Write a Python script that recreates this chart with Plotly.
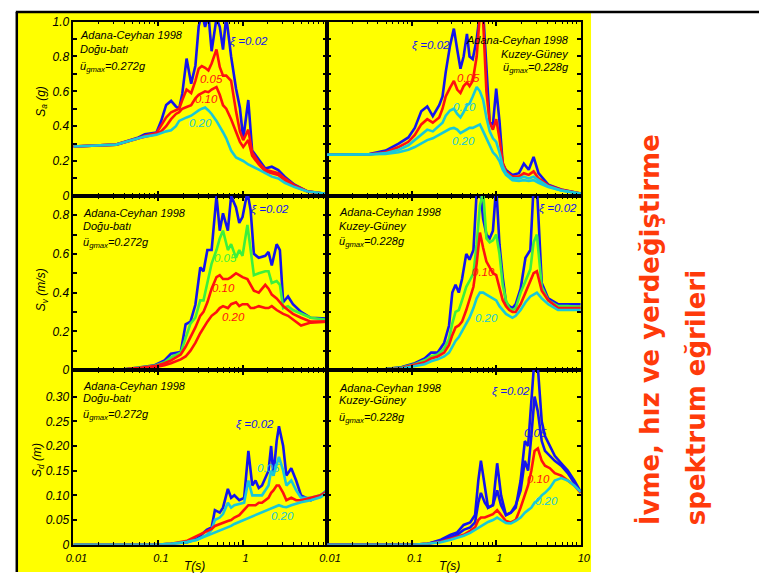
import plotly.graph_objects as go

W, H = 769, 579

# ---------------- data ----------------
# Top-left: Sa, Dogu-bati
TL_T = [0.01, 0.032, 0.059, 0.07, 0.096, 0.109, 0.125, 0.143, 0.163, 0.178, 0.194, 0.218, 0.247,
        0.277, 0.303, 0.33, 0.361, 0.395, 0.431, 0.492, 0.538, 0.588, 0.642, 0.733, 0.838, 0.932,
        1.02, 1.17, 1.30, 1.56, 1.86, 2.22, 2.65, 3.16, 4.12, 5.88, 10]
TL_SA_002 = [0.283, 0.294, 0.335, 0.354, 0.363, 0.429, 0.522, 0.545, 0.513, 0.50, 0.588, 0.788, 0.644,
             0.747, 0.972, 1.05, 0.97, 1.04, 0.83, 1.02, 0.97, 0.84, 1.03, 0.80, 0.616, 0.504,
             0.326, 0.55, 0.26, 0.204, 0.157, 0.167, 0.148, 0.11, 0.064, 0.026, 0.01]
TL_SA_005 = [0.283, 0.294, 0.33, 0.345, 0.36, 0.405, 0.45, 0.48, 0.49, 0.50, 0.55, 0.61, 0.59,
             0.66, 0.73, 0.745, 0.735, 0.72, 0.76, 0.84, 0.74, 0.69, 0.69, 0.66, 0.485, 0.37,
             0.32, 0.38, 0.25, 0.19, 0.15, 0.14, 0.13, 0.10, 0.06, 0.025, 0.01]
TL_SA_010 = [0.283, 0.294, 0.33, 0.34, 0.355, 0.37, 0.40, 0.44, 0.47, 0.48, 0.50, 0.51, 0.52,
             0.56, 0.58, 0.59, 0.60, 0.595, 0.61, 0.625, 0.58, 0.52, 0.50, 0.44, 0.37, 0.31,
             0.28, 0.32, 0.23, 0.18, 0.14, 0.13, 0.12, 0.09, 0.055, 0.025, 0.01]
TL_SA_020 = [0.283, 0.294, 0.33, 0.34, 0.35, 0.36, 0.37, 0.376, 0.40, 0.43, 0.44, 0.45, 0.46,
             0.48, 0.49, 0.50, 0.507, 0.49, 0.47, 0.43, 0.40, 0.365, 0.33, 0.26, 0.22, 0.21,
             0.20, 0.18, 0.17, 0.15, 0.13, 0.11, 0.10, 0.075, 0.05, 0.025, 0.012]

# Top-right: Sa, Kuzey-Guney
TR_T = [0.01, 0.0316, 0.0492, 0.0702, 0.0915, 0.109, 0.130, 0.153, 0.178, 0.212, 0.232, 0.253,
        0.284, 0.316, 0.346, 0.378, 0.412, 0.451, 0.484, 0.528, 0.588, 0.642, 0.702, 0.766,
        0.838, 0.915, 1.0, 1.093, 1.194, 1.305, 1.557, 1.858, 2.123, 2.424, 2.769, 3.162,
        4.125, 5.878, 10]
TR_SA_002 = [0.236, 0.24, 0.26, 0.30, 0.335, 0.39, 0.485, 0.513, 0.457, 0.52, 0.57, 0.71, 0.86,
             0.96, 0.84, 0.73, 0.80, 0.93, 0.80, 0.785, 0.90, 1.05, 1.05, 0.71, 0.42, 0.41,
             0.616, 0.43, 0.185, 0.148, 0.12, 0.13, 0.185, 0.15, 0.223, 0.13, 0.064, 0.036, 0.013]
TR_SA_005 = [0.236, 0.238, 0.25, 0.28, 0.31, 0.35, 0.41, 0.44, 0.42, 0.45, 0.50, 0.57, 0.62,
             0.66, 0.61, 0.59, 0.63, 0.65, 0.63, 0.66, 0.80, 1.05, 1.0, 0.60, 0.42, 0.38,
             0.44, 0.33, 0.19, 0.14, 0.11, 0.11, 0.13, 0.12, 0.14, 0.10, 0.06, 0.035, 0.013]
TR_SA_010 = [0.236, 0.237, 0.245, 0.265, 0.29, 0.32, 0.35, 0.38, 0.37, 0.40, 0.42, 0.46, 0.49,
             0.50, 0.47, 0.45, 0.48, 0.52, 0.53, 0.57, 0.625, 0.60, 0.55, 0.45, 0.37, 0.33,
             0.31, 0.25, 0.17, 0.13, 0.10, 0.10, 0.11, 0.10, 0.11, 0.09, 0.055, 0.03, 0.012]
TR_SA_020 = [0.236, 0.236, 0.24, 0.25, 0.265, 0.28, 0.30, 0.32, 0.33, 0.35, 0.36, 0.37, 0.385,
             0.39, 0.38, 0.36, 0.37, 0.385, 0.39, 0.39, 0.40, 0.41, 0.37, 0.33, 0.29, 0.25,
             0.23, 0.20, 0.15, 0.12, 0.09, 0.085, 0.09, 0.085, 0.09, 0.075, 0.05, 0.03, 0.012]

# Middle-left: Sv, Dogu-bati
ML_T = [0.01, 0.0377, 0.0588, 0.0915, 0.1194, 0.1425, 0.1858, 0.2123, 0.2424, 0.2769, 0.3162,
        0.3455, 0.3842, 0.4311, 0.4924, 0.538, 0.5877, 0.6713, 0.7333, 0.8377, 0.915, 1.0,
        1.142, 1.248, 1.363, 1.557, 1.858, 2.031, 2.219, 2.534, 2.769, 3.026, 3.455, 3.948,
        4.924, 6.424, 10]
ML_SV_002 = [0, 0.002, 0.013, 0.025, 0.05, 0.084, 0.093, 0.236, 0.25, 0.337, 0.53, 0.51, 0.62,
             0.62, 0.90, 0.72, 0.81, 0.72, 0.90, 0.84, 0.76, 0.79, 0.92, 0.825, 0.60, 0.58,
             0.59, 0.61, 0.54, 0.65, 0.62, 0.35, 0.38, 0.34, 0.30, 0.27, 0.266]
ML_SV_005 = [0, 0.002, 0.012, 0.022, 0.04, 0.065, 0.09, 0.17, 0.24, 0.27, 0.36, 0.36, 0.45,
             0.55, 0.62, 0.68, 0.72, 0.62, 0.65, 0.58, 0.62, 0.59, 0.75, 0.62, 0.49, 0.50,
             0.51, 0.51, 0.45, 0.46, 0.44, 0.32, 0.33, 0.31, 0.29, 0.27, 0.26]
ML_SV_010 = [0, 0.002, 0.01, 0.02, 0.035, 0.05, 0.08, 0.12, 0.17, 0.22, 0.28, 0.30, 0.35,
             0.42, 0.48, 0.49, 0.47, 0.47, 0.48, 0.50, 0.49, 0.48, 0.47, 0.44, 0.41, 0.40,
             0.44, 0.42, 0.39, 0.37, 0.35, 0.33, 0.31, 0.29, 0.27, 0.25, 0.25]
ML_SV_020 = [0, 0.002, 0.008, 0.015, 0.025, 0.035, 0.055, 0.07, 0.10, 0.14, 0.19, 0.22, 0.25,
             0.28, 0.30, 0.32, 0.33, 0.32, 0.34, 0.35, 0.33, 0.34, 0.34, 0.32, 0.32, 0.33,
             0.32, 0.32, 0.33, 0.31, 0.30, 0.29, 0.28, 0.26, 0.23, 0.245, 0.25]

# Middle-right: Sv, Kuzey-Guney
MR_T = [0.01, 0.0316, 0.0492, 0.0767, 0.1093, 0.1425, 0.1701, 0.2031, 0.2424, 0.2769, 0.3026,
        0.3305, 0.3612, 0.3946, 0.4427, 0.4837, 0.538, 0.5877, 0.6421, 0.7015, 0.7664, 0.8377,
        0.915, 1.0, 1.093, 1.194, 1.305, 1.425, 1.557, 1.701, 1.944, 2.219, 2.534, 2.769,
        3.026, 3.455, 4.125, 5.382, 7.017, 10]
MR_SV_002 = [0, 0.001, 0.005, 0.015, 0.035, 0.06, 0.09, 0.09, 0.14, 0.23, 0.40, 0.44, 0.40,
             0.47, 0.60, 0.57, 0.62, 0.92, 0.95, 0.78, 0.70, 0.68, 0.72, 0.95, 0.65, 0.48,
             0.35, 0.33, 0.32, 0.34, 0.42, 0.58, 0.62, 0.95, 0.95, 0.45, 0.37, 0.34, 0.34, 0.34]
MR_SV_005 = [0, 0.001, 0.005, 0.013, 0.03, 0.05, 0.07, 0.08, 0.11, 0.16, 0.24, 0.30, 0.31,
             0.36, 0.43, 0.46, 0.50, 0.65, 0.85, 0.92, 0.68, 0.66, 0.67, 0.70, 0.60, 0.44,
             0.36, 0.32, 0.31, 0.32, 0.40, 0.46, 0.52, 0.66, 0.70, 0.43, 0.36, 0.33, 0.33, 0.325]
MR_SV_010 = [0, 0.001, 0.004, 0.01, 0.025, 0.04, 0.06, 0.07, 0.09, 0.13, 0.18, 0.22, 0.23,
             0.25, 0.31, 0.36, 0.43, 0.55, 0.71, 0.63, 0.56, 0.53, 0.50, 0.49, 0.42, 0.36,
             0.33, 0.31, 0.30, 0.30, 0.34, 0.40, 0.46, 0.50, 0.51, 0.41, 0.36, 0.32, 0.32, 0.32]
MR_SV_020 = [0, 0.001, 0.003, 0.008, 0.02, 0.03, 0.045, 0.055, 0.07, 0.09, 0.12, 0.15, 0.17,
             0.20, 0.24, 0.27, 0.32, 0.37, 0.40, 0.40, 0.39, 0.38, 0.37, 0.36, 0.33, 0.31,
             0.29, 0.28, 0.27, 0.28, 0.31, 0.35, 0.38, 0.39, 0.40, 0.37, 0.34, 0.31, 0.31, 0.31]

# Bottom-left: Sd, Dogu-bati
BL_T = [0.01, 0.0915, 0.1425, 0.2219, 0.2894, 0.3775, 0.4311, 0.4711, 0.538, 0.5877, 0.6713,
        0.7333, 0.8013, 0.915, 1.045, 1.173, 1.304, 1.425, 1.557, 1.701, 2.031, 2.181, 2.32,
        2.534, 2.697, 3.026, 3.305, 3.775, 4.311, 4.924, 6.424, 8.377, 10]
BL_SD_002 = [0, 0, 0.002, 0.005, 0.012, 0.03, 0.035, 0.07, 0.065, 0.075, 0.113, 0.095, 0.10,
             0.09, 0.095, 0.19, 0.12, 0.13, 0.115, 0.12, 0.15, 0.20, 0.14, 0.21, 0.24, 0.20,
             0.14, 0.155, 0.13, 0.10, 0.09, 0.10, 0.11]
BL_SD_005 = [0, 0, 0.002, 0.005, 0.01, 0.02, 0.03, 0.05, 0.055, 0.062, 0.085, 0.075, 0.08,
             0.082, 0.085, 0.13, 0.10, 0.10, 0.10, 0.10, 0.12, 0.15, 0.14, 0.16, 0.178, 0.15,
             0.12, 0.13, 0.11, 0.095, 0.095, 0.10, 0.11]
BL_SD_010 = [0, 0, 0.002, 0.008, 0.018, 0.028, 0.032, 0.038, 0.042, 0.045, 0.048, 0.05, 0.055,
             0.06, 0.07, 0.08, 0.08, 0.08, 0.085, 0.085, 0.095, 0.105, 0.11, 0.12, 0.12, 0.105,
             0.09, 0.095, 0.09, 0.09, 0.095, 0.10, 0.108]
BL_SD_020 = [0, 0, 0.002, 0.006, 0.01, 0.018, 0.021, 0.024, 0.028, 0.031, 0.035, 0.038, 0.042,
             0.046, 0.05, 0.055, 0.058, 0.06, 0.063, 0.066, 0.07, 0.073, 0.075, 0.078, 0.08,
             0.077, 0.076, 0.08, 0.083, 0.086, 0.09, 0.096, 0.105]

# Bottom-right: Sd, Kuzey-Guney
BR_T = [0.01, 0.1, 0.1557, 0.2219, 0.2894, 0.3455, 0.4124, 0.4924, 0.5623, 0.6142, 0.6595,
        0.7333, 0.8013, 0.915, 1.027, 1.142, 1.304, 1.49, 1.701, 1.944, 2.181, 2.382, 2.603,
        2.843, 3.107, 3.455, 3.775, 4.311, 4.924, 5.878, 7.017, 8.377, 10]
BR_SD_002 = [0, 0, 0.002, 0.01, 0.02, 0.025, 0.04, 0.045, 0.06, 0.13, 0.17, 0.12, 0.075, 0.08,
             0.165, 0.10, 0.06, 0.065, 0.075, 0.13, 0.21, 0.20, 0.30, 0.38, 0.36, 0.25, 0.22,
             0.20, 0.18, 0.165, 0.15, 0.13, 0.107]
BR_SD_005 = [0, 0, 0.002, 0.008, 0.015, 0.02, 0.03, 0.035, 0.045, 0.085, 0.105, 0.085, 0.075,
             0.08, 0.11, 0.08, 0.06, 0.065, 0.08, 0.11, 0.17, 0.15, 0.22, 0.30, 0.27, 0.21,
             0.19, 0.18, 0.17, 0.16, 0.145, 0.125, 0.105]
BR_SD_010 = [0, 0, 0.002, 0.006, 0.012, 0.016, 0.02, 0.028, 0.035, 0.05, 0.055, 0.055, 0.058,
             0.062, 0.07, 0.06, 0.048, 0.045, 0.05, 0.075, 0.10, 0.12, 0.15, 0.19, 0.195, 0.17,
             0.16, 0.155, 0.145, 0.14, 0.13, 0.12, 0.105]
BR_SD_020 = [0, 0, 0.002, 0.005, 0.01, 0.014, 0.018, 0.024, 0.03, 0.034, 0.038, 0.042, 0.046,
             0.05, 0.055, 0.05, 0.044, 0.043, 0.048, 0.055, 0.065, 0.07, 0.075, 0.085, 0.09,
             0.10, 0.105, 0.115, 0.13, 0.135, 0.13, 0.12, 0.107]

# tick labels
X_MAJOR = [0.01, 0.1, 1, 10]
X_TEXT_LEFT = ["0.01", "0.1", "1", ""]
X_TEXT_RIGHT = ["0.01", "0.1", "1", "10"]
X_MINOR = [m * d for d in (0.01, 0.1, 1) for m in range(2, 10)]
SA_TICKS = [0, 0.2, 0.4, 0.6, 0.8, 1.0]
SA_TEXT = ["0", "0.2", "0.4", "0.6", "0.8", "1.0"]
SV_TICKS = [0, 0.2, 0.4, 0.6, 0.8]
SV_TEXT = ["0", "0.2", "0.4", "0.6", "0.8"]
SD_TICKS = [0, 0.05, 0.10, 0.15, 0.20, 0.25, 0.30]
SD_TEXT = ["0", "0.05", "0.10", "0.15", "0.20", "0.25", "0.30"]
Y_MINOR_01 = [0.1, 0.3, 0.5, 0.7, 0.9]

# ---------------- styles ----------------
BLUE = "#1414EE"
RED = "#FF1010"
CYAN = "#18C8D8"
GREEN = "#3CF03C"
YELLOW = "#FFFF00"
ORANGE = "#FF3A0A"
FONT = "Liberation Sans, Arial, sans-serif"


def xp(x):
    return x / W


def yp(y):
    return 1 - y / H


fig = go.Figure()

panels = [
    (1, TL_T, [(TL_SA_002, BLUE), (TL_SA_005, RED), (TL_SA_010, RED), (TL_SA_020, CYAN)]),
    (2, TR_T, [(TR_SA_002, BLUE), (TR_SA_005, RED), (TR_SA_010, CYAN), (TR_SA_020, CYAN)]),
    (3, ML_T, [(ML_SV_002, BLUE), (ML_SV_005, GREEN), (ML_SV_010, RED), (ML_SV_020, RED)]),
    (4, MR_T, [(MR_SV_002, BLUE), (MR_SV_005, GREEN), (MR_SV_010, RED), (MR_SV_020, CYAN)]),
    (5, BL_T, [(BL_SD_002, BLUE), (BL_SD_005, CYAN), (BL_SD_010, RED), (BL_SD_020, CYAN)]),
    (6, BR_T, [(BR_SD_002, BLUE), (BR_SD_005, BLUE), (BR_SD_010, RED), (BR_SD_020, CYAN)]),
]
for ax, T, series in panels:
    sfx = "" if ax == 1 else str(ax)
    for vals, col in series:
        fig.add_trace(go.Scatter(x=T, y=vals, mode="lines",
                                 line=dict(color=col, width=2.6),
                                 xaxis="x" + sfx, yaxis="y" + sfx,
                                 showlegend=False, hoverinfo="skip"))

XCOL = [(67, 326.7), (326.7, 586.5)]
YROW = [(15, 193.5), (193.5, 372), (372, 551)]
YRANGES = [[0, 1.0], [0, 0.9], [0, 0.354]]
YTV = [(SA_TICKS, SA_TEXT, Y_MINOR_01), (SV_TICKS, SV_TEXT, Y_MINOR_01), (SD_TICKS, SD_TEXT, [])]

tickfont = dict(family=FONT, size=12, color="black", style="italic")
layout_axes = {}
for ax in range(1, 7):
    r = (ax - 1) // 2
    c = (ax - 1) % 2
    sfx = "" if ax == 1 else str(ax)
    x0, x1 = XCOL[c]
    y0, y1 = YROW[r]
    tv, tt, ymin = YTV[r]
    layout_axes["xaxis" + sfx] = dict(
        type="log", range=[-2, 1], domain=[xp(x0), xp(x1)], anchor="y" + sfx,
        showline=True, linecolor="black", linewidth=1.7, mirror="ticks",
        ticks="inside", ticklen=5, tickwidth=1.5, tickcolor="black",
        tickmode="array", tickvals=X_MAJOR,
        ticktext=(X_TEXT_LEFT if c == 0 else X_TEXT_RIGHT),
        showticklabels=(r == 2), tickfont=dict(tickfont, size=11),
        ticklabelshift=3, ticklabelstandoff=2,
        minor=dict(tickmode="array", tickvals=X_MINOR, ticks="inside", ticklen=3,
                   tickwidth=1.2, tickcolor="black", showgrid=False),
        showgrid=False, zeroline=False, fixedrange=True,
    )
    layout_axes["yaxis" + sfx] = dict(
        range=YRANGES[r], domain=[yp(y1), yp(y0)], anchor="x" + sfx,
        showline=True, linecolor="black", linewidth=1.7, mirror="ticks",
        ticks="inside", ticklen=4, tickwidth=1.5, tickcolor="black",
        tickmode="array", tickvals=tv, ticktext=tt,
        showticklabels=(c == 0), tickfont=tickfont,
        minor=dict(tickmode="array", tickvals=ymin, ticks="inside", ticklen=4,
                   tickwidth=1.5, tickcolor="black", showgrid=False),
        showgrid=False, zeroline=False, fixedrange=True,
    )

ann = []


def text(x, y, s, color="black", size=11, xanchor="left", italic=True, angle=0, family=FONT,
         weight="normal"):
    ann.append(dict(x=xp(x), y=yp(y), xref="paper", yref="paper", text=s, showarrow=False,
                    xanchor=xanchor, yanchor="middle", textangle=angle,
                    font=dict(family=family, size=size, color=color,
                              style=("italic" if italic else "normal"), weight=weight)))


# panel info blocks
for (x, ys, name, pga, anchor) in [
    (72, (29, 43, 61), "Doğu-batı", "0.272g", "left"),
    (577, (34, 48, 63), "Kuzey-Güney", "0.228g", "right"),
    (75, (211, 224, 242), "Doğu-batı", "0.272g", "left"),
    (337, (210, 224, 241), "Kuzey-Güney", "0.228g", "left"),
    (75, (388, 401, 418), "Doğu-batı", "0.272g", "left"),
    (337, (390, 403, 421), "Kuzey-Güney", "0.228g", "left"),
]:
    text(x, ys[0], "Adana-Ceyhan 1998", xanchor=anchor)
    text(x, ys[1], name, xanchor=anchor)
    text(x, ys[2], "ü<sub>gmax</sub>=" + pga, xanchor=anchor)

# damping labels
LBL = 11.5
for (x, y, s, col) in [
    (247, 35, "ξ =0.02", BLUE), (208, 74, "0.05", RED), (203, 94, "0.10", RED), (197, 119, "0.20", CYAN),
    (433, 39, "ξ =0.02", BLUE), (472, 73, "0.05", RED), (467, 102, "0.10", CYAN), (466, 137, "0.20", CYAN),
    (268, 208, "ξ =0.02", BLUE), (223, 257, "0.05", GREEN), (221, 288, "0.10", RED), (231, 318, "0.20", RED),
    (563, 206, "ξ =0.02", BLUE), (487, 272, "0.10", RED), (490, 319, "0.20", CYAN),
    (253, 428, "ξ =0.02", BLUE), (267, 472, "0.05", CYAN), (281, 522, "0.20", CYAN),
    (515, 394, "ξ =0.02", BLUE), (540, 437, "0.05", BLUE), (543, 484, "0.10", RED), (551, 506, "0.20", CYAN),
]:
    text(x, y, s, color=col, size=LBL, xanchor="center")

# axis titles
text(34, 97, "S<sub>a</sub> (g)", size=12, xanchor="center", angle=-90)
text(35, 290, "S<sub>v</sub> (m/s)", size=12, xanchor="center", angle=-90)
text(31, 464, "S<sub>d</sub> (m)", size=12, xanchor="center", angle=-90)
text(191, 573, "T(s)", size=12, xanchor="center")
text(452, 573, "T(s)", size=12, xanchor="center")

# vertical title on the right
ann.append(dict(x=xp(657), y=yp(533), xref="paper", yref="paper",
                text="İvme, hız ve yerdeğiştirme", showarrow=False, textangle=-90,
                xanchor="center", yanchor="bottom",
                font=dict(family="DejaVu Sans", size=26, color=ORANGE, weight="bold")))
ann.append(dict(x=xp(704), y=yp(533), xref="paper", yref="paper",
                text="spektrum eğrileri", showarrow=False, textangle=-90,
                xanchor="center", yanchor="bottom",
                font=dict(family="DejaVu Sans", size=26, color=ORANGE, weight="bold")))

shapes = [
    dict(type="rect", xref="paper", yref="paper", x0=xp(10), x1=xp(597), y0=0, y1=yp(5),
         fillcolor=YELLOW, line=dict(width=0), layer="below"),
    dict(type="line", xref="paper", yref="paper", x0=xp(8), x1=1, y0=yp(5), y1=yp(5),
         line=dict(color="black", width=2.5)),
    dict(type="line", xref="paper", yref="paper", x0=xp(9), x1=xp(9), y0=0, y1=yp(5),
         line=dict(color="black", width=2.5)),
]

fig.update_layout(
    width=W, height=H, margin=dict(l=0, r=0, t=0, b=0),
    paper_bgcolor="white", plot_bgcolor=YELLOW,
    annotations=ann, shapes=shapes, showlegend=False,
    font=dict(family=FONT, color="black"),
    **layout_axes,
)

fig.write_html("out.html", config={"displayModeBar": False},
               post_script="document.body.style.margin='0';document.body.style.overflow='hidden';")
